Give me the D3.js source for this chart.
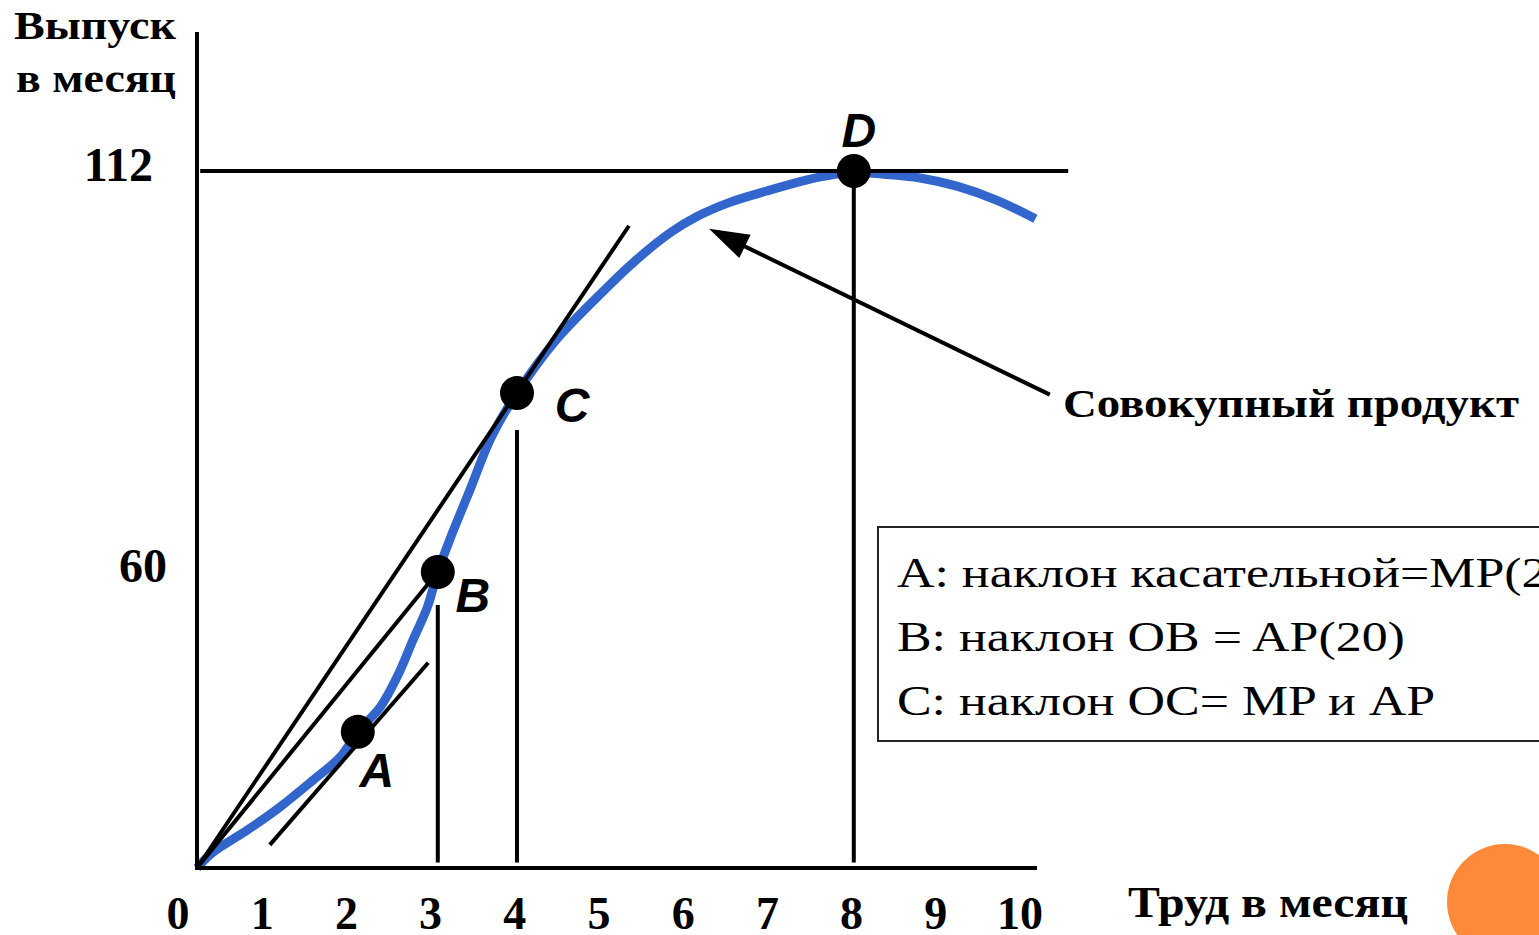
<!DOCTYPE html>
<html lang="ru">
<head>
<meta charset="UTF-8">
<title>Совокупный продукт</title>
<script src="https://d3js.org/d3.v7.min.js"></script>
<style>
  html, body { margin: 0; padding: 0; background: #fff; overflow: hidden; }
  svg { display: block; }
  .serif { font-family: "Liberation Serif", "DejaVu Serif", serif; }
  .pt { font-family: "Liberation Sans", Arial, sans-serif; font-weight: bold; font-style: italic; }
</style>
</head>
<body>
<svg id="chart" width="1539" height="935"></svg>
<script>
// ---- data ----
const laborTicks = [0, 1, 2, 3, 4, 5, 6, 7, 8, 9, 10];
const outputTicks = [60, 112];

// total product curve (labour, output)
const curveL = [0, 0.2, 0.63, 1.04, 1.45, 1.79, 2.01, 2.29, 2.5, 2.7, 2.88, 3.01, 3.16, 3.41, 3.68, 4.0,
                4.49, 4.97, 5.45, 5.93, 6.25, 6.65, 7.12, 7.6, 7.94, 8.21, 8.56, 9.04, 9.51, 10.0, 10.48];
const curveQ = [0, 3.2, 7.7, 12.4, 17.8, 22.5, 27.6, 32.6, 38.7, 46.2, 52.9, 60, 64.2, 70.6, 77.5, 83.2,
                90.1, 95.3, 100.1, 104.1, 106.1, 107.9, 109.4, 110.8, 111.5, 111.8, 111.6, 111.1, 110.0, 108.2, 105.8];

const pointNames = ["A", "B", "C", "D"];
const pointL = [2.01, 3.01, 4.0, 8.21];
const pointQ = [27.6, 60, 83.2, 112];

// tangent at A, rays OB and OC
const tangentA = [[0.91, 4.7], [2.89, 41.6]];
const rayOB = [[0, 0], [3.01, 60]];
const rayOC = [[0, 0], [5.4, 104.9]];

// drop lines (labour, from output)
const dropL = [3.01, 4.0, 8.21];
const dropTop = [53.3, 78.4, 112];

const legendLines = [
  "A: наклон касательной=MP(20)",
  "B: наклон OB = AP(20)",
  "C: наклон OC= MP и AP"
];

// ---- drawing ----
const svg = d3.select("#chart");

const x = d3.scaleLinear().domain([0, 10.5]).range([197, 1037]);
const y = d3.scaleLinear().domain([0, 60, 112]).range([868, 572, 171]);
const tickX = d3.scaleLinear().domain([0, 10]).range([178, 1020]);

const line = d3.line().x(d => x(d[0])).y(d => y(d[1]));
const smooth = d3.line().x(d => x(d[0])).y(d => y(d[1])).curve(d3.curveCatmullRom.alpha(0.5));

function fit(sel, w) {
  sel.attr("textLength", w).attr("lengthAdjust", "spacingAndGlyphs");
}

// orange decoration
svg.append("circle").attr("cx", 1505).attr("cy", 902).attr("r", 58).attr("fill", "#fd8a3b");

// blue curve
svg.append("path")
  .datum(curveL.map((l, i) => [l, curveQ[i]]))
  .attr("d", smooth)
  .attr("fill", "none")
  .attr("stroke", "#3366cc")
  .attr("stroke-width", 9);

const black = svg.append("g").attr("stroke", "#000").attr("stroke-width", 4).attr("fill", "none");

// axes
black.append("line").attr("x1", x(0)).attr("x2", x(0)).attr("y1", 32).attr("y2", y(0) + 2);
black.append("line").attr("x1", x(0) - 2).attr("x2", x(10.5)).attr("y1", y(0)).attr("y2", y(0));

// 112 level
black.append("line")
  .attr("x1", x(0.04)).attr("x2", x(10.89))
  .attr("y1", y(112)).attr("y2", y(112));

[tangentA, rayOB, rayOC].forEach(seg => black.append("path").attr("d", line(seg)));

dropL.forEach((l, i) => {
  black.append("line")
    .attr("x1", x(l)).attr("x2", x(l))
    .attr("y1", y(dropTop[i])).attr("y2", y(1.1));
});

// arrow to the curve
const tip = [6.4, 104.5], tail = [10.66, 83];
black.append("line")
  .attr("x1", x(tail[0])).attr("y1", y(tail[1]))
  .attr("x2", x(tip[0]) + 14).attr("y2", y(tip[1]) + 7);
{
  const tx = x(tip[0]), ty = y(tip[1]);
  const ang = Math.atan2(y(tail[1]) - ty, x(tail[0]) - tx);
  const len = 40, half = 13;
  const bx = tx + len * Math.cos(ang), by = ty + len * Math.sin(ang);
  const px = -Math.sin(ang) * half, py = Math.cos(ang) * half;
  svg.append("path")
    .attr("d", `M${tx},${ty}L${bx + px},${by + py}L${bx - px},${by - py}Z`)
    .attr("fill", "#000");
}

// points
const pts = pointNames.map((n, i) => ({ n, l: pointL[i], q: pointQ[i] }));
svg.selectAll(".dot").data(pts).enter().append("circle")
  .attr("cx", d => x(d.l)).attr("cy", d => y(d.q))
  .attr("r", 17).attr("fill", "#000");

const labelOff = { A: [19, 55], B: [35, 40], C: [55, 29], D: [5, -24] };
svg.selectAll(".plabel").data(pts).enter().append("text")
  .attr("class", "pt")
  .attr("x", d => x(d.l) + labelOff[d.n][0])
  .attr("y", d => y(d.q) + labelOff[d.n][1])
  .attr("text-anchor", "middle")
  .attr("font-size", 48)
  .text(d => d.n);

// tick labels
svg.selectAll(".xt").data(laborTicks).enter().append("text")
  .attr("class", "serif")
  .attr("x", d => tickX(d)).attr("y", 929)
  .attr("text-anchor", "middle")
  .attr("font-size", 46).attr("font-weight", "bold")
  .text(d => d);

svg.selectAll(".yt").data(outputTicks).enter().append("text")
  .attr("class", "serif")
  .attr("x", d => d > 100 ? 153 : 167).attr("y", d => y(d) + 10)
  .attr("text-anchor", "end")
  .attr("font-size", 48).attr("font-weight", "bold")
  .text(d => d);

// axis titles
svg.append("text").attr("class", "serif").attr("x", 14).attr("y", 39)
  .attr("font-size", 40).attr("font-weight", "bold").text("Выпуск").call(fit, 162);
svg.append("text").attr("class", "serif").attr("x", 16).attr("y", 92)
  .attr("font-size", 40).attr("font-weight", "bold").text("в месяц").call(fit, 160);
svg.append("text").attr("class", "serif").attr("x", 1128).attr("y", 917)
  .attr("font-size", 44).attr("font-weight", "bold").text("Труд в месяц").call(fit, 280);
svg.append("text").attr("class", "serif").attr("x", 1063).attr("y", 417)
  .attr("font-size", 40).attr("font-weight", "bold").text("Совокупный продукт").call(fit, 456);

// legend box
svg.append("rect")
  .attr("x", 878).attr("y", 527).attr("width", 700).attr("height", 214)
  .attr("fill", "none").attr("stroke", "#222").attr("stroke-width", 2);

const legendG = svg.append("g");
const legendText = legendG.selectAll("text").data(legendLines).enter().append("text")
  .attr("class", "serif")
  .attr("x", 0).attr("y", (d, i) => i * 64)
  .attr("font-size", 42)
  .text(d => d);
const natural = legendText.nodes()[1].getComputedTextLength();
legendG.attr("transform", `translate(897,587) scale(${508 / natural},1)`);
</script>
</body>
</html>
